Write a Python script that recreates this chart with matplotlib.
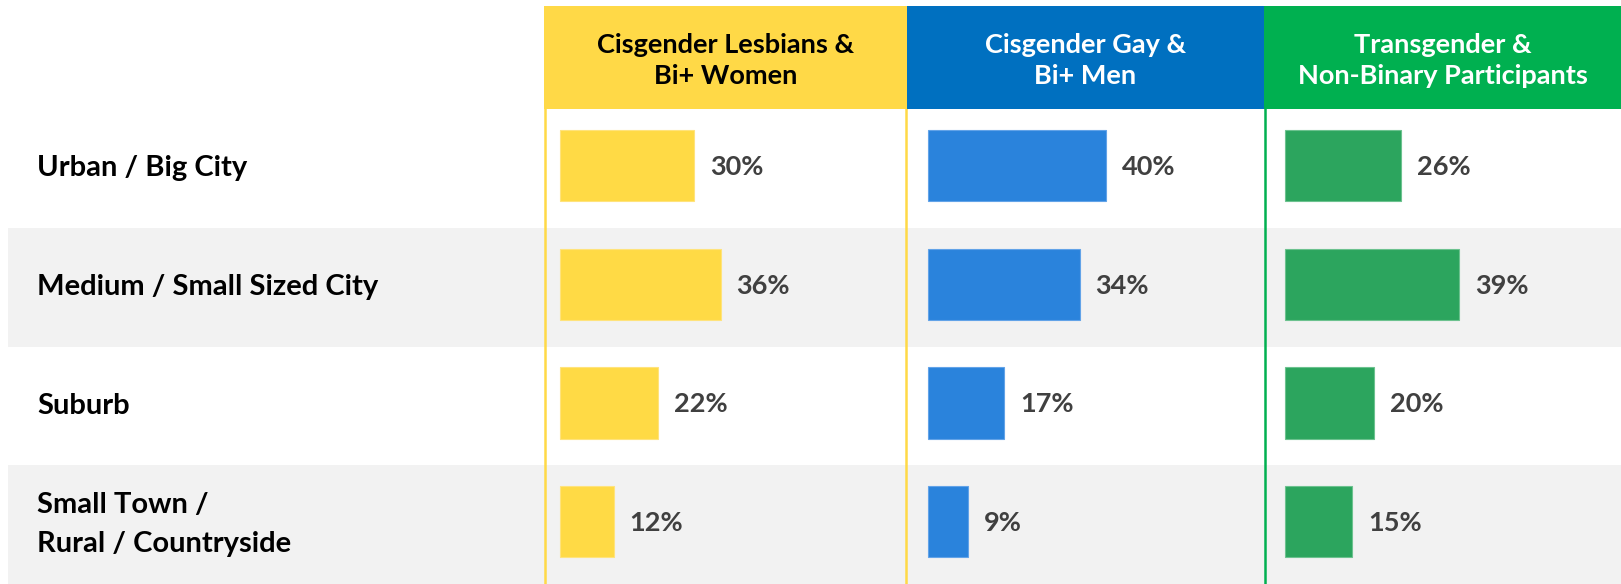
import matplotlib.pyplot as plt

# figure size in pixels (saved at dpi=100)
W, H = 1621, 584

plt.rcParams['font.family'] = ['Lato', 'DejaVu Sans']

# data
categories = ['Urban / Big City', 'Medium / Small Sized City', 'Suburb',
              'Small Town /\nRural / Countryside']
groups = ['Cisgender Lesbians &\nBi+ Women', 'Cisgender Gay &\nBi+ Men',
          'Transgender &\nNon-Binary Participants']
lesbian_bi_women = [30, 36, 22, 12]
gay_bi_men = [40, 34, 17, 9]
trans_nonbinary = [26, 39, 20, 15]
series = [lesbian_bi_women, gay_bi_men, trans_nonbinary]

# styles
header_colors = ['#FFD947', '#0070C0', '#00B050']
header_text_colors = ['black', 'white', 'white']
bar_colors = ['#FFDA45', '#2A83DC', '#2CA55E']
bar_edges = ['#FFE37C', '#62A3E8', '#6CC28F']
label_color = '#404040'
row_gray = '#F2F2F2'

HEAD_TOP, HEAD_BOT = 6, 109
PX_PER_PCT = 4.46
# (axes left, axes right, where the bars start) in pixels
columns = [(545, 906, 560), (906, 1265, 928), (1265, W, 1285)]
headers = [(544, 907), (907, 1264), (1264, W)]


def box(x0, y0, x1, y1):
    """pixel box (top-left origin) -> figure fraction rect"""
    return [x0 / W, 1 - y1 / H, (x1 - x0) / W, (y1 - y0) / H]


fig = plt.figure(figsize=(W / 100, H / 100), dpi=100)

# row backgrounds + row labels
bg = fig.add_axes(box(8, HEAD_BOT, W, H))
bg.set_xlim(0, W - 8)
bg.set_ylim(len(categories) - 0.5, -0.5)
for i, cat in enumerate(categories):
    if i % 2 == 1:
        bg.axhspan(i - 0.5, i + 0.5, color=row_gray, lw=0)
    bg.text(29, i, cat, ha='left', va='center', fontsize=21,
            fontweight='bold', color='black', linespacing=1.6)
bg.axis('off')

# bar columns
for k, (vals, (x0, x1, start)) in enumerate(zip(series, columns)):
    ax = fig.add_axes(box(x0, HEAD_BOT, x1, H))
    ax.patch.set_alpha(0)
    ax.set_xlim((x0 - start) / PX_PER_PCT, (x1 - start) / PX_PER_PCT)
    # shift rows a touch so bars sit slightly above the row centre
    ax.set_ylim(len(categories) - 0.5 + 0.025, -0.5 + 0.025)
    ax.barh(range(len(vals)), vals, height=0.6, color=bar_colors[k],
            edgecolor=bar_edges[k], linewidth=0.8)
    for i, v in enumerate(vals):
        ax.annotate(f'{v}%', (v, i), xytext=(11.5, -1), textcoords='offset points',
                    ha='left', va='center', fontsize=19.5, fontweight='bold',
                    color=label_color)
    ax.set_xticks([])
    ax.set_yticks([])
    for s in ax.spines.values():
        s.set_visible(False)
    if k == 0:
        for side in ('left', 'right'):
            ax.spines[side].set_visible(True)
            ax.spines[side].set_color(header_colors[0])
            ax.spines[side].set_linewidth(1.8)
    if k == 2:
        ax.spines['left'].set_visible(True)
        ax.spines['left'].set_color(header_colors[2])
        ax.spines['left'].set_linewidth(1.8)

# column headers
for k, (x0, x1) in enumerate(headers):
    hx = fig.add_axes(box(x0, HEAD_TOP, x1, HEAD_BOT))
    hx.set_facecolor(header_colors[k])
    hx.set_xticks([])
    hx.set_yticks([])
    for s in hx.spines.values():
        s.set_visible(False)
    hx.text(0.5, 0.47, groups[k], ha='center', va='center', fontsize=19.5,
            fontweight='bold', color=header_text_colors[k], linespacing=1.35,
            transform=hx.transAxes)

fig.savefig('out.png', dpi=100)
